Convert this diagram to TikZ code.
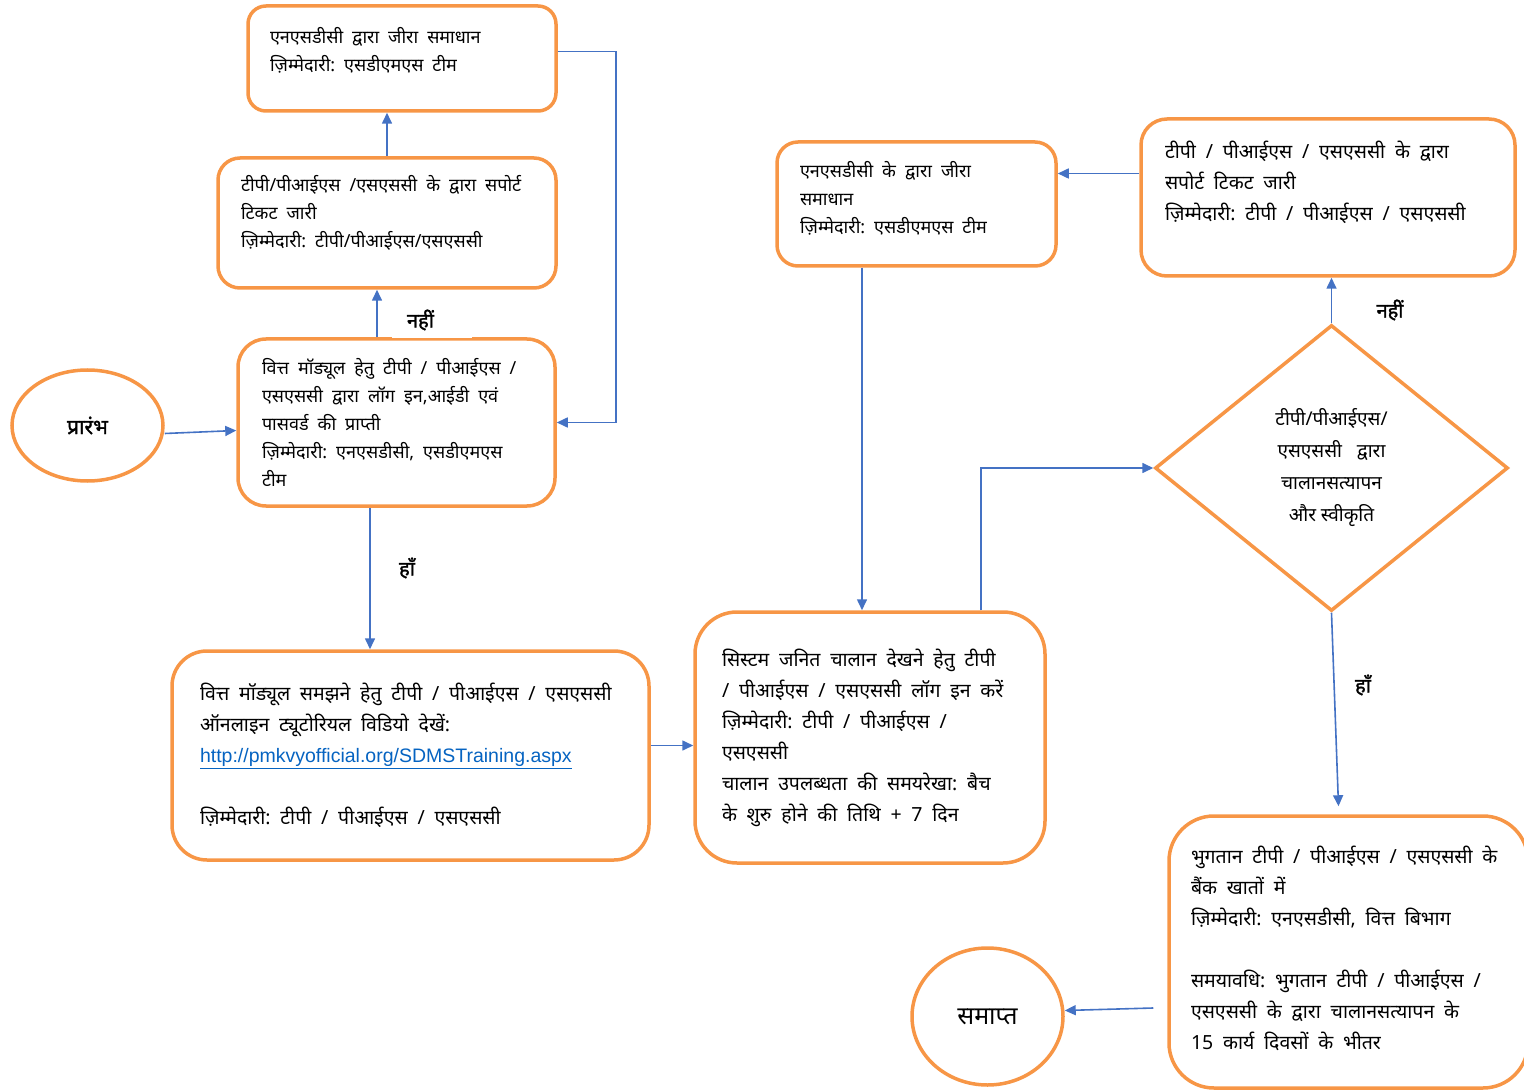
\documentclass[tikz,border=0pt]{standalone}
\usepackage{fontspec}
\setmainfont[Script=Devanagari]{Noto Sans}
\newfontfamily\hindibold[Script=Devanagari, FakeBold=1.6]{Noto Sans}
\newfontfamily\urlfont{Liberation Sans}
\usetikzlibrary{shapes.geometric,arrows.meta}
\definecolor{boxorange}{RGB}{247,150,70}
\definecolor{arrowblue}{RGB}{68,114,196}
\definecolor{urlblue}{RGB}{5,99,193}
\newcommand{\padbelow}[1]{\par\nointerlineskip\vspace{#1pt}\null}
\protected\def\widespaces{\spaceskip 0.5em\relax}

\begin{document}
\begin{tikzpicture}[x=1pt, y=-1pt,
    flowbox/.style={draw=boxorange, line width=3.5pt, align=left, inner ysep=0pt},
    smalltext/.style={font=\fontsize{18}{28}\selectfont, execute at begin node=\widespaces},
    bigtext/.style={font=\fontsize{19.5}{31}\selectfont, execute at begin node=\widespaces},
    terminal/.style={draw=boxorange, line width=3.5pt, ellipse, inner sep=0pt},
    flow/.style={draw=arrowblue, line width=1.6pt, -{Triangle[length=11pt,width=10pt]}},
    answer/.style={font=\hindibold\fontsize{20}{22}\selectfont, fill=white, inner sep=3pt, minimum height=36pt}]
                \clip (0,0) rectangle (1524,1091);

                % left column
                \node[flowbox, smalltext, rounded corners=18pt, minimum width=308pt, minimum height=105pt,
                      inner xsep=22pt, text width=264pt] (resolveA) at (402,58.5)
                      {एनएसडीसी द्वारा जीरा समाधान\\ ज़िम्मेदारी: एसडीएमएस टीम\padbelow{16}};
                \node[flowbox, smalltext, rounded corners=22pt, minimum width=338pt, minimum height=130pt,
                      inner xsep=23pt, text width=292pt] (ticketA) at (387,223)
                      {टीपी/पीआईएस /एसएससी के द्वारा सपोर्ट\\ टिकट जारी\\ ज़िम्मेदारी: टीपी/पीआईएस/एसएससी\padbelow{20}};
                \node[flowbox, smalltext, rounded corners=28pt, minimum width=317pt, minimum height=167pt,
                      inner xsep=24pt, text width=269pt] (login) at (396.5,422.5)
                      {वित्त मॉड्यूल हेतु टीपी / पीआईएस /\\ एसएससी द्वारा लॉग इन,आईडी एवं\\ पासवर्ड की प्राप्ती\\ ज़िम्मेदारी: एनएसडीसी, एसडीएमएस\\ टीम};
                \node[terminal, minimum width=151pt, minimum height=111pt,
                      font=\hindibold\fontsize{21}{24}\selectfont] (start) at (87.5,425.5) {प्रारंभ};
                \node[flowbox, bigtext, rounded corners=35pt, minimum width=477pt, minimum height=209pt,
                      inner xsep=28pt, text width=421pt] (tutorial) at (410.5,755.5)
                      {वित्त मॉड्यूल समझने हेतु टीपी / पीआईएस / एसएससी\\ ऑनलाइन ट्यूटोरियल विडियो देखें:\\
                       {\urlfont\fontsize{19.5}{31}\selectfont\color{urlblue}\underline{http://pmkvyofficial.org/SDMSTraining.aspx}}\\[31pt]
                       ज़िम्मेदारी: टीपी / पीआईएस / एसएससी};

                % right part
                \node[flowbox, bigtext, rounded corners=42pt, minimum width=350pt, minimum height=251pt,
                      inner xsep=27pt, text width=296pt] (system) at (870,737.5)
                      {सिस्टम जनित चालान देखने हेतु टीपी\\ / पीआईएस / एसएससी लॉग इन करें\\ ज़िम्मेदारी: टीपी / पीआईएस /\\ एसएससी\\ चालान उपलब्धता की समयरेखा: बैच\\ के शुरु होने की तिथि + 7 दिन};
                \node[flowbox, smalltext, rounded corners=21pt, minimum width=279pt, minimum height=124pt,
                      inner xsep=23pt, text width=233pt] (resolveB) at (916.5,204)
                      {एनएसडीसी के द्वारा जीरा\\ समाधान\\ ज़िम्मेदारी: एसडीएमएस टीम\padbelow{12}};
                \node[flowbox, bigtext, rounded corners=26pt, minimum width=374pt, minimum height=157pt,
                      inner xsep=24pt, text width=326pt] (ticketB) at (1328,197.5)
                      {टीपी / पीआईएस / एसएससी के द्वारा\\ सपोर्ट टिकट जारी\\ ज़िम्मेदारी: टीपी / पीआईएस / एसएससी\padbelow{30}};
                \node[draw=boxorange, line width=3.5pt, diamond, minimum width=353pt, minimum height=286pt,
                      inner sep=0pt, align=center, font=\fontsize{19}{32}\selectfont] (check) at (1331.5,468)
                      {टीपी/पीआईएस/\\ एसएससी~~~द्वारा\\ चालानसत्यापन\\ और~स्वीकृति};
                \node[flowbox, bigtext, rounded corners=45pt, minimum width=359pt, minimum height=272pt,
                      inner xsep=22pt, text width=315pt] (payment) at (1348.5,952)
                      {भुगतान टीपी / पीआईएस / एसएससी के\\ बैंक खातों में\\ ज़िम्मेदारी: एनएसडीसी, वित्त बिभाग\\[31pt]
                       समयावधि: भुगतान टीपी / पीआईएस /\\ एसएससी के द्वारा चालानसत्यापन के\\ 15 कार्य दिवसों के भीतर\padbelow{8}};
                \node[terminal, minimum width=151pt, minimum height=137pt,
                      font=\fontsize{25}{28}\selectfont] (finish) at (987.5,1016.5) {समाप्त};

                % connectors
                \draw[flow] ([yshift=-8pt]start.east) -- ([yshift=-8pt]login.west);
                \draw[flow] ([xshift=-19.5pt]login.north) -- ([xshift=-19.5pt]login.north |- ticketA.south);
                \draw[flow] (ticketA.north) -- (ticketA.north |- resolveA.south);
                \draw[flow] ([yshift=7pt]resolveA.east) -- ++(58,0) |- (login.east);
                \draw[flow] ([xshift=-26.5pt]login.south) -- ([xshift=-26.5pt]login.south |- tutorial.north);
                \draw[flow] ([yshift=10pt]tutorial.east) -- ([yshift=10pt]tutorial.east -| system.west);
                \draw[flow] ([xshift=111pt]system.north) |- (check.west);
                \draw[flow] (check.north) -- (check.north |- ticketB.south);
                \draw[flow] ([yshift=24pt]ticketB.west) -- ([yshift=24pt]ticketB.west -| resolveB.east);
                \draw[flow] ([xshift=-54.5pt]resolveB.south) -- ([xshift=-54.5pt]resolveB.south |- system.north);
                \draw[flow] (check.south) -- ([xshift=-10pt,yshift=8pt]payment.north);
                \draw[flow] ([xshift=-14pt,yshift=-56pt]payment.west) -- ([yshift=6pt]finish.east);

                % answers
                \node[answer, inner xsep=15pt, text width=50pt, align=left] (noA) at (432,320) {नहीं};
                \node[answer] (yesA) at (407,568) {हाँ};
                \node[answer] (noB) at (1390,310) {नहीं};
                \node[answer] (yesB) at (1363,685) {हाँ};
            \end{tikzpicture}
\end{document}
